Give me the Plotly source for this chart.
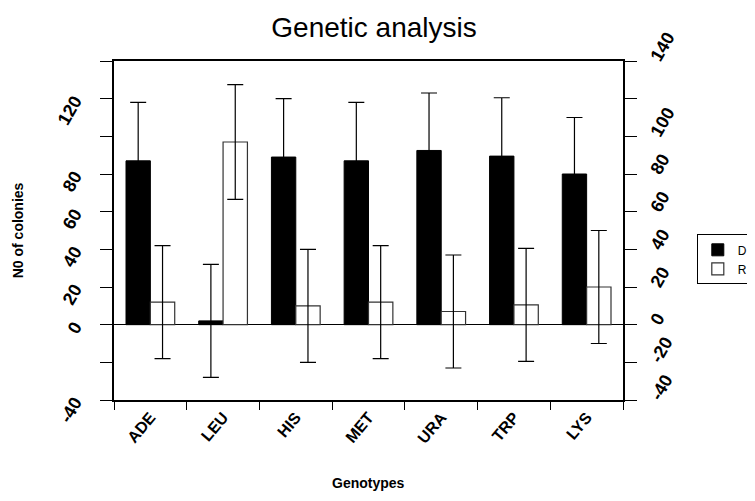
import plotly.graph_objects as go

genotypes = ["ADE", "LEU", "HIS", "MET", "URA", "TRP", "LYS"]
d_values = [87, 2, 89, 87, 92.5, 89.5, 80]
d_errors = [31, 30, 31, 31, 30.5, 31, 30]
r_values = [12, 97, 10, 12, 7, 10.5, 20]
r_errors = [30, 30.5, 30, 30, 30, 30, 30]
left_ticks = [-40, 0, 20, 40, 60, 80, 120]
right_ticks = [-40, -20, 0, 20, 40, 60, 80, 100, 140]
all_ticks = [-40, -20, 0, 20, 40, 60, 80, 100, 120, 140]

FONT = "Arial, Liberation Sans, sans-serif"

fig = go.Figure()
fig.add_trace(go.Bar(
    x=genotypes, y=d_values, name="D",
    marker=dict(color="black", line=dict(color="black", width=1)),
    error_y=dict(type="data", array=d_errors, color="black", thickness=1.2, width=8),
))
fig.add_trace(go.Bar(
    x=genotypes, y=r_values, name="R",
    marker=dict(color="white", line=dict(color="#333333", width=1.2)),
    error_y=dict(type="data", array=r_errors, color="black", thickness=1.2, width=8),
))
# invisible trace to activate right axis
fig.add_trace(go.Scatter(x=[genotypes[0]], y=[0], yaxis="y2", mode="markers",
                         marker=dict(opacity=0), showlegend=False, hoverinfo="skip"))

fig.update_layout(
    width=747, height=485,
    paper_bgcolor="white", plot_bgcolor="white",
    margin=dict(l=106, r=132, t=53, b=93, autoexpand=False),
    barmode="group", bargap=0.33, bargroupgap=0,
    title=dict(text="Genetic analysis", x=0.49, xanchor="center", y=0.96, yanchor="middle",
               font=dict(family=FONT, size=28, color="black")),
    font=dict(family=FONT, color="black"),
    showlegend=True,
    legend=dict(x=1.145, y=0.415, xanchor="left", yanchor="middle",
                bordercolor="black", borderwidth=1, bgcolor="white",
                font=dict(family=FONT, size=12, color="black"),
                itemwidth=30, tracegroupgap=0),
    xaxis=dict(
        type="category", tickson="boundaries", ticks="outside", ticklen=8,
        tickcolor="black", showline=True, linecolor="black", linewidth=1.5,
        mirror=True, tickangle=-50, automargin=False,
        tickfont=dict(family=FONT, size=16, color="black", weight="bold"),
        showgrid=False,
    ),
    yaxis=dict(
        range=[-40, 140], tickvals=all_ticks,
        ticktext=[str(v) if v in left_ticks else "" for v in all_ticks],
        ticks="outside", ticklen=12, tickcolor="black",
        showline=True, linecolor="black", linewidth=1.5,
        zeroline=True, zerolinecolor="black", zerolinewidth=1.2,
        showgrid=False, tickangle=-60, automargin=False, ticklabelstandoff=22,
        tickfont=dict(family=FONT, size=18, color="black", weight="bold"),
    ),
    yaxis2=dict(
        range=[-40, 140], overlaying="y", side="right", tickvals=all_ticks,
        ticktext=[str(v) if v in right_ticks else "" for v in all_ticks],
        ticks="outside", ticklen=12, tickcolor="black",
        showline=True, linecolor="black", linewidth=1.5,
        zeroline=False, showgrid=False, tickangle=-60, automargin=False,
        ticklabelstandoff=12,
        tickfont=dict(family=FONT, size=18, color="black", weight="bold"),
    ),
    annotations=[
        dict(text="<b>N0 of colonies</b>", xref="paper", yref="paper",
             x=-0.189, y=0.5, xanchor="center", yanchor="middle", textangle=-90,
             showarrow=False, font=dict(family=FONT, size=14, color="black")),
        dict(text="<b>Genotypes</b>", xref="paper", yref="paper",
             x=0.5, y=-0.245, xanchor="center", yanchor="middle",
             showarrow=False, font=dict(family=FONT, size=14, color="black")),
    ],
)

fig.write_html("out.html")
